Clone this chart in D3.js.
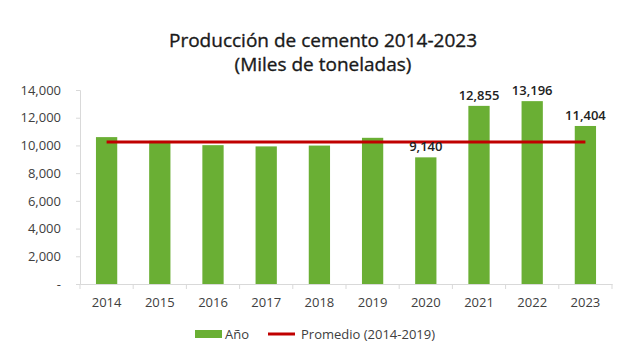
<!DOCTYPE html>
<html><head><meta charset="utf-8">
<script src="https://cdn.jsdelivr.net/npm/d3@7"></script>
<style>body{margin:0;background:#fff}svg{display:block}text{font-family:"Open Sans",Lato,sans-serif}</style>
</head><body>
<svg id="c" width="620" height="359"></svg>
<script>
const years = ["2014","2015","2016","2017","2018","2019","2020","2021","2022","2023"];
const values = [10600, 10330, 10020, 9930, 9990, 10550, 9140, 12855, 13196, 11404];
const labeledYears = ["2020","2021","2022","2023"];
const promedio = 10240;
const yTicks = [0, 2000, 4000, 6000, 8000, 10000, 12000, 14000];
const titleLines = ["Producción de cemento 2014-2023", "(Miles de toneladas)"];
const legendLabels = ["Año", "Promedio (2014-2019)"];

const svg = d3.select("#c");
const m = {l:80, r:8, t:90, b:75};
const W = 620, H = 359;
const x = d3.scaleBand().domain(years).range([m.l, W - m.r]).paddingInner(0.6).paddingOuter(0.3);
const y = d3.scaleLinear().domain([0, 14000]).range([H - m.b, m.t]);
const green = "#6aaf34", red = "#c00000", txt = "#404040", axisC = "#d9d9d9";

// title
svg.selectAll("text.title").data(titleLines).join("text").attr("class","title")
  .attr("x", 323).attr("y", (d,i) => 47 + i*24)
  .attr("text-anchor","middle").attr("font-size", 19).attr("font-weight", 500)
  .attr("font-family", "Lato, sans-serif")
  .attr("fill", "#1a1a1a").attr("stroke", "#1a1a1a").attr("stroke-width", 0.35)
  .text(d => d);

// y axis
const fmt = d => d === 0 ? "-" : d3.format(",")(d);
const ya = svg.append("g").attr("transform", `translate(${m.l},0)`)
  .call(d3.axisLeft(y).tickValues(yTicks).tickFormat(fmt).tickSize(4).tickPadding(15));
ya.select(".domain").attr("stroke", axisC);
ya.selectAll(".tick line").attr("stroke", axisC);
ya.selectAll(".tick text").attr("font-size", 13).attr("fill", txt).attr("font-family", "'Open Sans',sans-serif");

// x axis
const xa = svg.append("g").attr("transform", `translate(0,${H - m.b})`)
  .call(d3.axisBottom(x).tickSize(0).tickPadding(14));
xa.select(".domain").attr("stroke", axisC);
xa.selectAll(".tick text").attr("font-size", 13).attr("fill", txt).attr("font-family", "'Open Sans',sans-serif");
const bounds = d3.range(years.length + 1).map(i => m.l + i * (W - m.r - m.l) / years.length);
xa.selectAll("line.bt").data(bounds).join("line").attr("class","bt")
  .attr("x1", d => d).attr("x2", d => d).attr("y1", 0).attr("y2", 5).attr("stroke", axisC);

// bars
svg.selectAll("rect.bar").data(years).join("rect").attr("class","bar")
  .attr("x", d => x(d)).attr("width", x.bandwidth())
  .attr("y", (d,i) => y(values[i])).attr("height", (d,i) => y(0) - y(values[i]))
  .attr("fill", green);

// average line
svg.append("line")
  .attr("x1", x(years[0]) + x.bandwidth()/2).attr("x2", x(years[years.length-1]) + x.bandwidth()/2)
  .attr("y1", y(promedio)).attr("y2", y(promedio))
  .attr("stroke", red).attr("stroke-width", 3);

// labels
svg.selectAll("text.lbl").data(years.filter(d => labeledYears.includes(d))).join("text").attr("class","lbl")
  .attr("x", d => x(d) + x.bandwidth()/2)
  .attr("y", d => y(values[years.indexOf(d)]) - 6)
  .attr("text-anchor","middle").attr("font-size", 13).attr("font-weight", 600).attr("fill", "#222")
  .text(d => d3.format(",")(values[years.indexOf(d)]));

// legend
const lg = svg.append("g");
lg.append("rect").attr("x", 195).attr("y", 330).attr("width", 27).attr("height", 8).attr("fill", green);
lg.append("text").attr("x", 225).attr("y", 338.5).attr("font-size", 13).attr("fill", txt).text(legendLabels[0]);
lg.append("line").attr("x1", 268).attr("x2", 295).attr("y1", 334).attr("y2", 334).attr("stroke", red).attr("stroke-width", 3);
lg.append("text").attr("x", 301).attr("y", 338.5).attr("font-size", 13).attr("fill", txt).text(legendLabels[1]);
</script>
</body></html>
